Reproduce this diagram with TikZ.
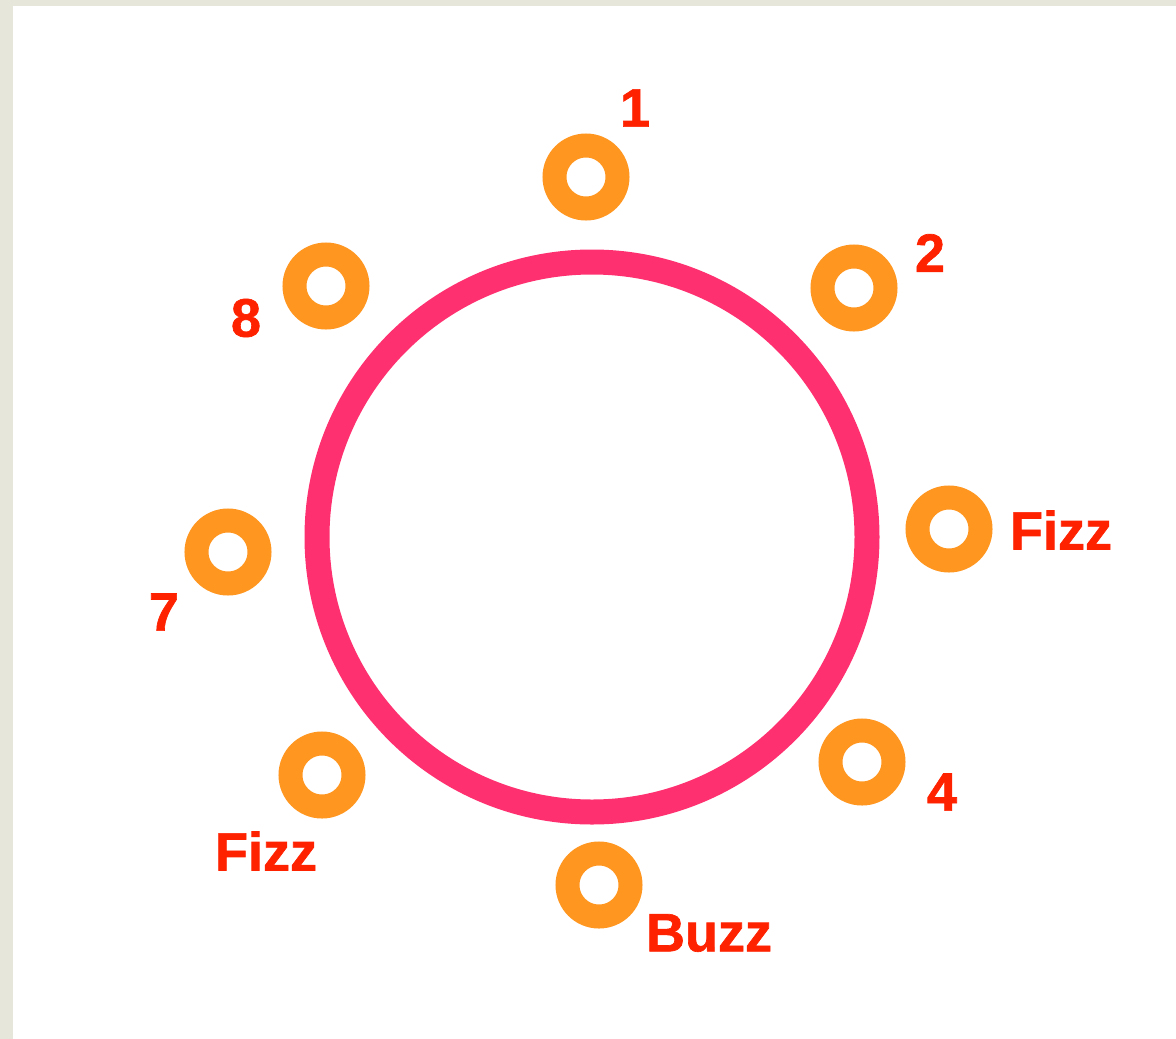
\documentclass[tikz,border=0pt]{standalone}
\usepackage{fontspec}
\setmainfont{Liberation Sans}
\newfontfamily\tagfont{Liberation Sans Bold}[FakeBold=1.2]
\usepackage{tikz}
\usetikzlibrary{positioning}
\definecolor{loopPink}{RGB}{255, 48, 112}
\definecolor{ringOrange}{RGB}{255, 150, 32}
\definecolor{tagRed}{RGB}{255, 34, 0}
\definecolor{paperBg}{RGB}{230, 230, 218}

\begin{document}
\begin{tikzpicture}[x=1pt, y=-1pt,
  ring/.style={circle, draw=ringOrange, line width=24pt, minimum size=63pt, inner sep=0pt},
  tag/.style={text=tagRed, font=\tagfont\fontsize{54}{54}\selectfont, inner sep=0pt}]
  % paper and sheet
  \fill[paperBg] (0,0) rectangle (1176,1039);
  \fill[white] (13,6) rectangle (1176,1039);
  \useasboundingbox (0,0) rectangle (1176,1039);
  % the big loop
  \node[circle, draw=loopPink, line width=25pt, minimum size=550pt, inner sep=0pt]
    (loop) at (592,537) {};
  % the eight seats
  \foreach \name/\x/\y in {one/586/177, two/854/288, three/949/529, four/862/762,
                           five/599/885, six/322/775, seven/228/552, eight/326/286}
    \node[ring] (\name) at (\x,\y) {};
  % what each seat says
  \node[tag] (tagOne)   at (635,108) {1};
  \node[tag] (tagTwo)   at (930,253) {2};
  \node[tag] (tagThree) at (1061,530) {Fizz};
  \node[tag] (tagFour)  at (942,792) {4};
  \node[tag] (tagFive)  at (709,933) {Buzz};
  \node[tag] (tagSix)   at (266,851) {Fizz};
  \node[tag] (tagSeven) at (164,612) {7};
  \node[tag] (tagEight) at (246,318) {8};
\end{tikzpicture}
\end{document}
